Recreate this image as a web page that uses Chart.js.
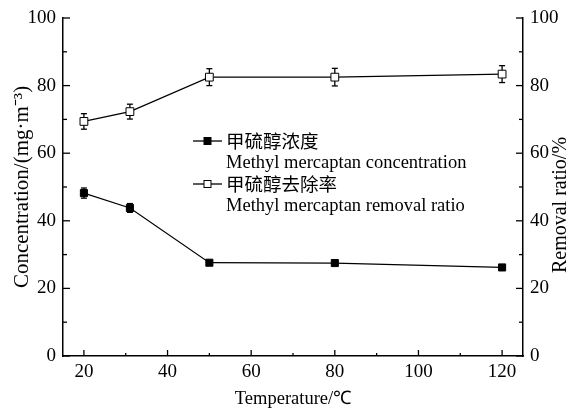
<!DOCTYPE html>
<html>
<head>
<meta charset="utf-8">
<script src="https://cdn.jsdelivr.net/npm/chart.js@4"></script>
<style>
html, body { margin: 0; padding: 0; background: #fff; }
</style>
</head>
<body>
<canvas id="chart" width="574" height="409"></canvas>
<script>
// values
const temperatures = [20, 31, 50, 80, 120];
const concentration = [48.2, 43.8, 27.6, 27.5, 26.2];
const concentrationErr = [1.5, 1.3, 0.5, 0.5, 0.6];
const removalRatio = [69.4, 72.3, 82.5, 82.5, 83.4];
const removalErr = [2.3, 2.2, 2.5, 2.6, 2.5];

const xTicks = [20, 40, 60, 80, 100, 120];
const yTicks = [0, 20, 40, 60, 80, 100];

const seriesZh = ["甲硫醇浓度", "甲硫醇去除率"];
const seriesEn = ["Methyl mercaptan concentration", "Methyl mercaptan removal ratio"];
const rightTitle = "Removal ratio/%";

const serif = "'Liberation Serif', 'Times New Roman', serif";
const cjk = "'Noto Sans CJK SC', sans-serif";

function line(ctx, x1, y1, x2, y2) {
  ctx.beginPath();
  ctx.moveTo(x1, y1);
  ctx.lineTo(x2, y2);
  ctx.stroke();
}

function mids(arr) {
  return arr.slice(1).map((v, i) => (v + arr[i]) / 2);
}

// ticks pointing into the plot, major + minor
const innerTicks = {
  id: "innerTicks",
  afterDraw(chart) {
    const { ctx, chartArea: a, scales } = chart;
    ctx.save();
    ctx.strokeStyle = "#000";
    ctx.lineWidth = 1.3;
    xTicks.forEach((v) => {
      const x = scales.x.getPixelForValue(v);
      line(ctx, x, a.bottom, x, a.bottom - 6);
    });
    mids(xTicks).forEach((v) => {
      const x = scales.x.getPixelForValue(v);
      line(ctx, x, a.bottom, x, a.bottom - 3);
    });
    yTicks.forEach((v) => {
      const y = scales.y.getPixelForValue(v);
      line(ctx, a.left, y, a.left + 7, y);
      const y1 = scales.y1.getPixelForValue(v);
      line(ctx, a.right, y1, a.right - 7, y1);
    });
    mids(yTicks).forEach((v) => {
      const y = scales.y.getPixelForValue(v);
      line(ctx, a.left, y, a.left + 4, y);
      const y1 = scales.y1.getPixelForValue(v);
      line(ctx, a.right, y1, a.right - 4, y1);
    });
    // right axis title, reads bottom to top
    ctx.save();
    ctx.translate(561, (a.top + a.bottom) / 2 + 18);
    ctx.rotate(-Math.PI / 2);
    ctx.fillStyle = "#000";
    ctx.font = "20px " + serif;
    ctx.textAlign = "center";
    ctx.textBaseline = "middle";
    ctx.fillText(rightTitle, 0, 0);
    ctx.restore();
    ctx.restore();
  },
};

// vertical error bars with caps
const errorBars = {
  id: "errorBars",
  beforeDatasetsDraw(chart) {
    const { ctx } = chart;
    ctx.save();
    ctx.strokeStyle = "#000";
    ctx.lineWidth = 1.3;
    chart.data.datasets.forEach((ds, i) => {
      const meta = chart.getDatasetMeta(i);
      const ys = chart.scales[meta.yAxisID];
      ds.data.forEach((p, j) => {
        const e = ds.errors[j];
        const x = chart.scales.x.getPixelForValue(p.x);
        const top = ys.getPixelForValue(p.y + e);
        const bot = ys.getPixelForValue(p.y - e);
        line(ctx, x, top, x, bot);
        line(ctx, x - 3, top, x + 3, top);
        line(ctx, x - 3, bot, x + 3, bot);
      });
    });
    ctx.restore();
  },
};

// two-line legend inside the plot
const innerLegend = {
  id: "innerLegend",
  afterDraw(chart) {
    const { ctx } = chart;
    const x0 = 193;
    const rows = [141, 184];
    ctx.save();
    chart.data.datasets.forEach((ds, i) => {
      const y = rows[i];
      ctx.strokeStyle = "#000";
      ctx.lineWidth = 1.3;
      line(ctx, x0, y, x0 + 29, y);
      ctx.fillStyle = ds.pointBackgroundColor;
      ctx.fillRect(x0 + 11, y - 3.5, 7, 7);
      ctx.lineWidth = 1;
      ctx.strokeRect(x0 + 11, y - 3.5, 7, 7);
      ctx.fillStyle = "#000";
      ctx.textBaseline = "middle";
      ctx.textAlign = "left";
      ctx.font = "18.5px " + cjk;
      ctx.fillText(seriesZh[i], x0 + 33, y);
      ctx.font = "18.5px " + serif;
      ctx.fillText(seriesEn[i], x0 + 33, y + 22);
    });
    ctx.restore();
  },
};

const tickFont = { family: serif, size: 19, lineHeight: 1 };

new Chart(document.querySelector("#chart").getContext("2d"), {
  type: "scatter",
  data: {
    datasets: [
      {
        label: seriesEn[0],
        data: temperatures.map((t, i) => ({ x: t, y: concentration[i] })),
        errors: concentrationErr,
        yAxisID: "y",
        showLine: true,
        borderColor: "#000",
        borderWidth: 1.2,
        pointStyle: "rect",
        pointRadius: 5,
        pointBackgroundColor: "#000",
        pointBorderColor: "#000",
        pointBorderWidth: 1,
      },
      {
        label: seriesEn[1],
        data: temperatures.map((t, i) => ({ x: t, y: removalRatio[i] })),
        errors: removalErr,
        yAxisID: "y1",
        showLine: true,
        borderColor: "#000",
        borderWidth: 1.2,
        pointStyle: "rect",
        pointRadius: 5.5,
        pointBackgroundColor: "#fff",
        pointBorderColor: "#000",
        pointBorderWidth: 1,
      },
    ],
  },
  options: {
    responsive: false,
    animation: false,
    layout: { padding: { top: 18, left: 0, right: 0, bottom: 0 } },
    plugins: { legend: { display: false }, tooltip: { enabled: false } },
    scales: {
      x: {
        type: "linear",
        min: 15,
        max: 125,
        afterBuildTicks: (s) => { s.ticks = xTicks.map((v) => ({ value: v })); },
        afterFit: (s) => { s.height = 53; },
        grid: { display: false, drawTicks: false, tickLength: 0 },
        border: { display: true, color: "#000", width: 1.5 },
        ticks: { color: "#000", font: tickFont, padding: 7, maxRotation: 0 },
        title: {
          display: true,
          text: "Temperature/℃",
          color: "#000",
          font: { family: serif, size: 18.5, lineHeight: 1 },
          padding: { top: 0, bottom: 1 },
        },
      },
      y: {
        position: "left",
        min: 0,
        max: 100,
        afterBuildTicks: (s) => { s.ticks = yTicks.map((v) => ({ value: v })); },
        afterFit: (s) => { s.width = 63; },
        grid: { display: false, drawTicks: false, tickLength: 0 },
        border: { display: true, color: "#000", width: 1.5 },
        ticks: { color: "#000", font: tickFont, padding: 7 },
        title: {
          display: true,
          text: "Concentration/(mg·m⁻³)",
          color: "#000",
          font: { family: serif, size: 21, lineHeight: 1 },
          padding: { top: 12, bottom: 0 },
        },
      },
      y1: {
        position: "right",
        min: 0,
        max: 100,
        afterBuildTicks: (s) => { s.ticks = yTicks.map((v) => ({ value: v })); },
        afterFit: (s) => { s.width = 51; },
        grid: { display: false, drawTicks: false, tickLength: 0 },
        border: { display: true, color: "#000", width: 1.5 },
        ticks: { color: "#000", font: tickFont, padding: 7 },
      },
    },
  },
  plugins: [errorBars, innerTicks, innerLegend],
});
</script>
</body>
</html>
